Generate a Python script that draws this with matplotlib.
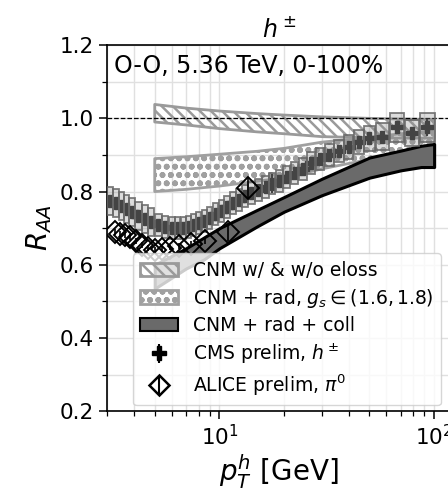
import numpy as np
import matplotlib
matplotlib.use('Agg')
import matplotlib.pyplot as plt
from matplotlib.patches import Rectangle, Patch

# theory bands
cnm_pt = [5, 7, 10, 15, 20, 30, 50, 70, 100]
cnm_hi = [1.038, 1.028, 1.02, 1.013, 1.009, 1.004, 1.0, 0.998, 0.997]
cnm_lo = [0.99, 0.982, 0.972, 0.963, 0.958, 0.95, 0.947, 0.946, 0.946]

rad_pt = [5, 7, 10, 15, 20, 30, 50, 70, 100]
rad_hi = [0.89, 0.895, 0.902, 0.91, 0.918, 0.935, 0.948, 0.958, 0.965]
rad_lo = [0.80, 0.806, 0.815, 0.828, 0.838, 0.862, 0.888, 0.902, 0.915]

coll_pt = [5, 7, 8.5, 10, 15, 20, 30, 50, 70, 87, 100]
coll_hi = [0.60, 0.645, 0.675, 0.70, 0.75, 0.785, 0.835, 0.893, 0.912, 0.925, 0.93]
coll_lo = [0.535, 0.59, 0.615, 0.645, 0.705, 0.745, 0.79, 0.838, 0.858, 0.867, 0.867]

# CMS prelim h+-
cms_pt = [3.1, 3.3, 3.5, 3.7, 3.9, 4.2, 4.5, 4.8, 5.2, 5.6, 6.0, 6.4, 6.8, 7.2, 7.6,
          8.0, 8.5, 9.0, 9.6, 10.2, 10.9, 11.6, 12.4, 13.2, 14.1, 15.2, 16.4, 17.6,
          19.0, 20.6, 22.4, 24.4, 26.8, 29.4, 32.4, 36.0, 40.0, 44.5, 50.0,
          57.0, 67.0, 79.0, 93.0]
cms_raa = [0.775, 0.768, 0.76, 0.752, 0.744, 0.734, 0.724, 0.716, 0.709, 0.704, 0.701,
           0.70, 0.701, 0.704, 0.708, 0.713, 0.72, 0.728, 0.738, 0.748, 0.758, 0.768,
           0.778, 0.787, 0.795, 0.804, 0.813, 0.822, 0.83, 0.84, 0.85, 0.862, 0.878,
           0.89, 0.90, 0.91, 0.922, 0.935, 0.945, 0.95, 0.975, 0.96, 0.975]
cms_stat = [0.004] * 27 + [0.025] + [0.005] * 11 + [0.01, 0.012, 0.015, 0.022]
cms_sys = [0.038] * 8 + [0.03] * 28 + [0.032, 0.032, 0.034, 0.036, 0.04, 0.036, 0.04]

# ALICE prelim pi0
alice_pt = [3.25, 3.45, 3.65, 3.85, 4.1, 4.35, 4.65, 5.0, 5.4, 5.9, 6.5, 7.4, 8.6, 11.0, 13.6]
alice_raa = [0.69, 0.685, 0.68, 0.675, 0.665, 0.655, 0.645, 0.64, 0.642, 0.647, 0.652,
             0.658, 0.665, 0.69, 0.81]
alice_err = [0.008] * 13 + [0.025, 0.03]

plt.rcParams['hatch.linewidth'] = 1.8
fig = plt.figure(figsize=(4.48, 4.96), dpi=100)
ax = fig.add_axes([0.239, 0.171, 0.768, 0.738])
ax.set_xscale('log')

ax.fill_between(cnm_pt, cnm_lo, cnm_hi, facecolor='none', edgecolor='#9a9a9a',
                hatch='\\\\\\', lw=2, zorder=2)
ax.fill_between(rad_pt, rad_lo, rad_hi, facecolor='none', edgecolor='#a0a0a0',
                hatch='oo', lw=2, zorder=2)
ax.fill_between(coll_pt, coll_lo, coll_hi, facecolor='#6a6a6a', edgecolor='k',
                lw=2.2, zorder=2)

ax.axhline(1.0, color='k', ls='--', lw=0.9, zorder=3)

# CMS points + sys boxes
pt = np.array(cms_pt)
edges = np.sqrt(pt[1:] * pt[:-1])
lft = np.concatenate([[pt[0] ** 2 / edges[0]], edges])
rgt = np.concatenate([edges, [pt[-1] ** 2 / edges[-1]]])
ax.errorbar(cms_pt, cms_raa, yerr=cms_stat, fmt='P', color='0.15', ms=9,
            elinewidth=1.5, capsize=0, zorder=4)
for i in range(len(pt)):
    w0 = pt[i] * (lft[i] / pt[i]) ** 0.95
    w1 = pt[i] * (rgt[i] / pt[i]) ** 0.95
    ax.add_patch(Rectangle((w0, cms_raa[i] - cms_sys[i]), w1 - w0, 2 * cms_sys[i],
                           facecolor=(0.55, 0.55, 0.55, 0.3),
                           edgecolor=(0.4, 0.4, 0.4, 0.85), lw=1.3, zorder=5))

ax.errorbar(alice_pt, alice_raa, yerr=alice_err, fmt='D', mfc='none', mec='k',
            color='k', ms=11, mew=1.4, elinewidth=1.2, capsize=0, zorder=6)

# legend handles
h1 = Patch(facecolor='none', edgecolor='#9a9a9a', hatch='\\\\\\', lw=2)
h2 = Patch(facecolor='none', edgecolor='#a0a0a0', hatch='oo', lw=2)
h3 = Patch(facecolor='#6a6a6a', edgecolor='k', lw=1.5)
h4 = ax.errorbar([np.nan], [np.nan], yerr=[0.1], fmt='P', color='k', ms=10,
                 elinewidth=1.5, capsize=0)
h5 = ax.errorbar([np.nan], [np.nan], yerr=[0.1], fmt='D', mfc='none', mec='k',
                 color='k', ms=10, mew=1.8, elinewidth=1.5, capsize=0)
leg = ax.legend([h1, h2, h3, h4, h5],
                ['CNM w/ & w/o eloss', r'CNM + rad, $g_s \in (1.6, 1.8)$',
                 'CNM + rad + coll', r'CMS prelim, $h^\pm$', r'ALICE prelim, $\pi^0$'],
                loc='lower left', bbox_to_anchor=(0.075, 0.016), borderaxespad=0,
                fontsize=13.5, framealpha=0.8, labelspacing=0.35)
leg.set_zorder(10)

ax.text(0.02, 0.975, 'O-O, 5.36 TeV, 0-100%', transform=ax.transAxes,
        fontsize=17, va='top', ha='left', zorder=11)

ax.set_xlim(3.0, 120)
ax.set_ylim(0.2, 1.2)
ax.set_yticks([0.2, 0.4, 0.6, 0.8, 1.0, 1.2])
ax.set_yticks(np.arange(0.3, 1.2, 0.2), minor=True)
ax.grid(True, which='both', color='0.88', lw=1.0, zorder=0)
ax.set_axisbelow(True)
ax.tick_params(which='major', labelsize=15.5, length=6, width=1.1)
ax.tick_params(which='minor', length=3.5, width=0.9)
for s in ax.spines.values():
    s.set_linewidth(1.2)

ax.set_title(r'$h^\pm$', fontsize=17)
ax.set_xlabel(r'$p_T^h$ [GeV]', fontsize=20, labelpad=2)
ax.set_ylabel(r'$R_{AA}$', fontsize=20)

fig.savefig('out.png', dpi=100)
